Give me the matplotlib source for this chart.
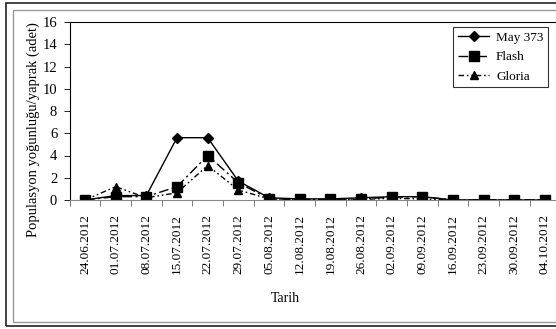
import matplotlib
matplotlib.use("Agg")
import matplotlib.pyplot as plt
from matplotlib.patches import Rectangle

# ── data ──────────────────────────────────────────────────────────────────────

dates = ["24.06.2012", "01.07.2012", "08.07.2012", "15.07.2012", "22.07.2012",
         "29.07.2012", "05.08.2012", "12.08.2012", "19.08.2012", "26.08.2012",
         "02.09.2012", "09.09.2012", "16.09.2012", "23.09.2012", "30.09.2012",
         "04.10.2012"]

may373 = [0.0, 0.4, 0.4, 5.6, 5.6, 1.7, 0.2, 0.1, 0.1, 0.2, 0.3, 0.3,
          0.0, 0.0, 0.0, 0.0]
flash = [0.0, 0.3, 0.3, 1.2, 4.0, 1.55, 0.1, 0.05, 0.05, 0.1, 0.25, 0.3,
         0.0, 0.0, 0.0, 0.0]
gloria = [0.0, 1.2, 0.2, 0.65, 3.1, 0.9, 0.1, 0.05, 0.05, 0.05, 0.15, 0.1,
          0.0, 0.0, 0.0, 0.0]

y_ticks = [0, 2, 4, 6, 8, 10, 12, 14, 16]

# ── figure ────────────────────────────────────────────────────────────────────

W, H = 556, 329
plt.rcParams['font.family'] = ['Liberation Serif', 'DejaVu Serif']
plt.rcParams['font.size'] = 9

fig = plt.figure(figsize=(W / 100, H / 100), dpi=100)
fig.patch.set_facecolor('white')


def px_rect(x0, y0, x1, y1, color, lw):
    # rectangle in pixel coords (top-left origin), may run past the figure edge
    fig.patches.append(Rectangle((x0 / W, 1 - y1 / H), (x1 - x0) / W,
                                 (y1 - y0) / H, transform=fig.transFigure,
                                 fill=False, edgecolor=color, linewidth=lw))


px_rect(6, 3, 600, 326, '#222222', 1.2)
px_rect(13, 10, 590, 322, '#999999', 1.0)

left, right, top, bottom = 69.7, 560.3, 22, 200
ax = fig.add_axes([left / W, 1 - bottom / H, (right - left) / W, (bottom - top) / H])

x = list(range(len(dates)))
ax.plot(x, may373, color='black', lw=1.0, ls='-', marker='D', ms=5.5,
        label='May 373')
ax.plot(x, flash, color='black', lw=1.0, ls=(0, (7, 2.5, 1.5, 2.5)),
        marker='s', ms=6.5, label='Flash')
ax.plot(x, gloria, color='black', lw=1.0, ls=(0, (4, 2, 1.2, 2, 1.2, 2)),
        marker='^', ms=6, label='Gloria')

ax.set_xlim(-0.5, len(dates) - 0.5)
ax.set_ylim(0, 16)
ax.set_yticks(y_ticks)
ax.set_xticks(x)
ax.set_xticklabels(dates, rotation=90)
ax.set_xticks([i - 0.5 for i in range(len(dates) + 1)], minor=True)
ax.tick_params(axis='x', which='major', length=0, pad=10, labelsize=9.5)
ax.tick_params(axis='x', which='minor', length=4, direction='out', width=0.6,
               color='#666666')
ax.tick_params(axis='y', length=4, direction='out', width=0.6, pad=5,
               labelsize=10.5)
for s in ax.spines.values():
    s.set_linewidth(0.8)
ax.spines['bottom'].set_color('#888888')

fig.text(33 / W, 1 - 130 / H, 'Populasyon yoğunluğu/yaprak (adet)',
         rotation=90, ha='center', va='center', fontsize=10.5)
fig.text(285 / W, 1 - 298 / H, 'Tarih', ha='center', va='center', fontsize=10)

leg = fig.legend(loc='upper right', bbox_to_anchor=(548 / W, 1 - 27 / H),
                 frameon=True, fancybox=False, edgecolor='black',
                 handlelength=2.4, borderpad=0.35, labelspacing=0.55,
                 handletextpad=0.5, borderaxespad=0, fontsize=9.5)
leg.get_frame().set_linewidth(0.8)

fig.savefig('out.png', dpi=100)
